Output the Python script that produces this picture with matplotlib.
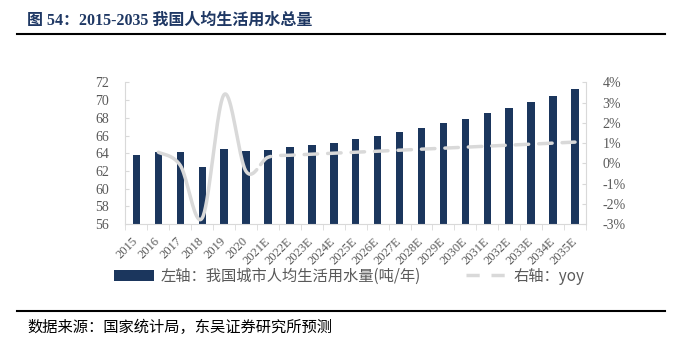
import numpy as np
import matplotlib
matplotlib.use('Agg')
import matplotlib.pyplot as plt
from matplotlib.lines import Line2D
from matplotlib.patches import Patch
from matplotlib.ticker import FuncFormatter, FixedLocator

years = ['2015', '2016', '2017', '2018', '2019', '2020', '2021E', '2022E', '2023E',
         '2024E', '2025E', '2026E', '2027E', '2028E', '2029E', '2030E', '2031E',
         '2032E', '2033E', '2034E', '2035E']
water = [63.8, 64.1, 64.1, 62.4, 64.5, 64.2, 64.4, 64.65, 64.9, 65.2, 65.6,
         66.0, 66.4, 66.9, 67.4, 67.9, 68.5, 69.1, 69.8, 70.5, 71.2]
# yoy (%) from 2016 onwards
yoy = [0.55, -0.1, -2.7, 3.4, -0.4, 0.3, 0.4, 0.45, 0.5, 0.55, 0.6, 0.65,
       0.7, 0.75, 0.8, 0.85, 0.9, 0.95, 1.0, 1.05]

navy = '#1B365D'
grey_line = '#D9D9D9'
label_c = '#595959'
serif = ['Liberation Serif', 'Noto Sans CJK SC']
cjk = ['Noto Sans CJK SC', 'DejaVu Sans']

plt.rcParams['lines.scale_dashes'] = False


def smooth(xs, ys, n=40):
    # excel-like smoothed line (catmull-rom bezier)
    pts = np.column_stack([xs, ys])
    p = np.vstack([pts[0], pts, pts[-1]])
    t = np.linspace(0, 1, n)[:, None]
    out = []
    for i in range(1, len(p) - 2):
        p0, p1, p2, p3 = p[i - 1], p[i], p[i + 1], p[i + 2]
        c1 = p1 + (p2 - p0) / 6
        c2 = p2 - (p3 - p1) / 6
        seg = (1 - t)**3 * p1 + 3 * (1 - t)**2 * t * c1 + 3 * (1 - t) * t**2 * c2 + t**3 * p2
        out.append(seg if i == 1 else seg[1:])
    return np.vstack(out)


fig = plt.figure(figsize=(6.79, 3.39), dpi=100)
ax = fig.add_axes([0.1848, 0.339, 0.863 - 0.1848, 0.757 - 0.339])
ax2 = ax.twinx()

x = np.arange(len(years))
ax.bar(x, water, width=0.34, color=navy, zorder=2)
ax.set_ylim(56, 72)
ax.set_yticks(np.arange(56, 73, 2))
ax.set_xlim(-0.5, len(years) - 0.5)

xs = x[1:]
curve = smooth(xs, yoy)
split = 5.5
solid = curve[curve[:, 0] <= split]
dashed = curve[curve[:, 0] >= split]
ax2.plot(solid[:, 0], solid[:, 1], color=grey_line, lw=2.5, solid_capstyle='round', zorder=3)
ax2.plot(dashed[:, 0], dashed[:, 1], color=grey_line, lw=2.5, linestyle=(13, (9.7, 7.2)),
         dash_capstyle='round', zorder=3)
ax2.set_ylim(-3, 4)
ax2.set_yticks(np.arange(-3, 5, 1))
ax2.yaxis.set_major_formatter(FuncFormatter(lambda v, p: f'{int(round(v))}%'))

ax.set_zorder(1)
ax2.set_zorder(2)
for a in (ax, ax2):
    for s in a.spines.values():
        s.set_color(grey_line)
    a.spines['top'].set_visible(False)
ax2.patch.set_visible(False)
ax2.spines['left'].set_visible(False)
ax2.spines['bottom'].set_visible(False)
ax.spines['right'].set_visible(False)

ax.set_xticks(x)
ax.set_xticklabels(years, rotation=45, ha='right', va='center', rotation_mode='anchor',
                   fontfamily=serif, fontsize=9, color=label_c)
ax.tick_params(axis='x', which='major', length=0, pad=11)
ax.xaxis.set_minor_locator(FixedLocator(np.arange(-0.5, len(years), 1)))
ax.tick_params(axis='x', which='minor', length=4, color=grey_line, direction='out')
ax.tick_params(axis='y', length=3, direction='in', color=grey_line, pad=12, labelsize=10,
               labelcolor=label_c)
ax2.tick_params(axis='y', length=3, direction='in', color=grey_line, pad=12, labelsize=10,
                labelcolor=label_c)
for lab in ax.get_yticklabels() + ax2.get_yticklabels():
    lab.set_fontfamily(serif)

# title and rules
fig.text(27 / 679, 1 - 21 / 339, '图 54：2015-2035 我国人均生活用水总量', fontsize=11.5,
         fontweight='bold', color='#1F3864', family=serif, va='center', ha='left')
fig.add_artist(Line2D([17 / 679, 665 / 679], [1 - 33.5 / 339] * 2, color='black', lw=1.5,
                      transform=fig.transFigure))
fig.add_artist(Line2D([17 / 679, 665 / 679], [1 - 311 / 339] * 2, color='black', lw=1.5,
                      transform=fig.transFigure))
fig.text(27 / 679, 1 - 327 / 339, '数据来源：国家统计局，东吴证券研究所预测', fontsize=11,
         color='black', family=cjk, va='center', ha='left')

handles = [Patch(facecolor=navy, edgecolor='none'),
           Line2D([0], [0], color=grey_line, lw=2.5, linestyle=(0, (9.5, 8.5)))]
labels = ['左轴：我国城市人均生活用水量(吨/年)', '右轴：yoy']
leg = fig.legend(handles, labels, loc='center left', bbox_to_anchor=(100 / 679, 1 - 276 / 339),
                 ncol=2, frameon=False, handlelength=2.65, handletextpad=0.4, columnspacing=3.0,
                 prop={'family': cjk, 'size': 11})
for t in leg.get_texts():
    t.set_color(label_c)

fig.savefig('out.png', dpi=100)
